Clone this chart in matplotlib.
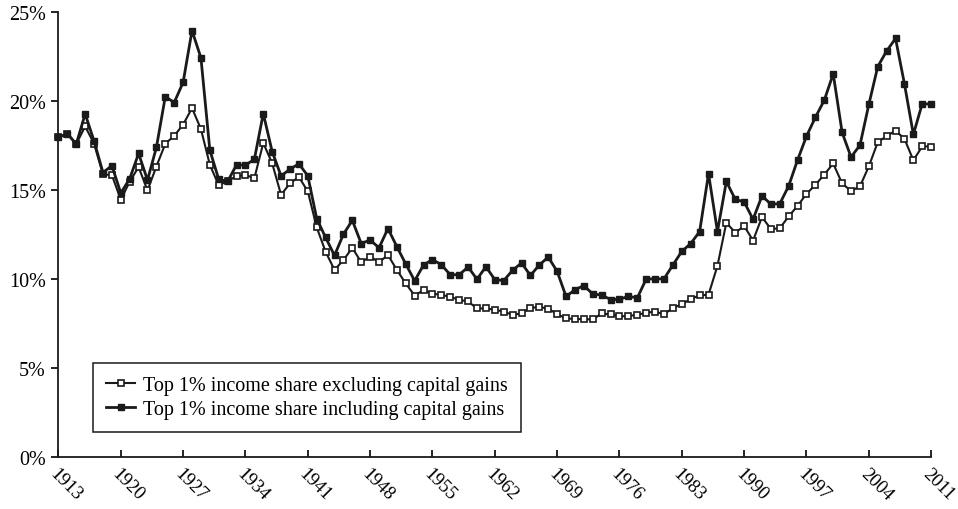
import numpy as np
import matplotlib.pyplot as plt

plt.rcParams['font.family'] = ['Liberation Serif', 'DejaVu Serif']

years = list(range(1913, 2012))

# top 1% share excluding capital gains (%)
excl_cg = [17.96, 18.16, 17.58, 18.57, 17.60, 15.88, 15.84, 14.46, 15.47, 16.29,
           14.98, 16.32, 17.60, 18.04, 18.67, 19.60, 18.42, 16.42, 15.26, 15.51,
           15.78, 15.85, 15.66, 17.64, 16.50, 14.73, 15.38, 15.73, 14.93, 12.91,
           11.54, 10.52, 11.07, 11.76, 10.95, 11.27, 10.95, 11.36, 10.52, 9.76,
           9.08, 9.39, 9.19, 9.12, 9.01, 8.84, 8.75, 8.36, 8.36, 8.29,
           8.18, 8.00, 8.09, 8.39, 8.44, 8.35, 8.04, 7.80, 7.77, 7.76,
           7.74, 8.08, 8.02, 7.91, 7.94, 8.00, 8.12, 8.18, 8.03, 8.39,
           8.59, 8.89, 9.09, 9.13, 10.75, 13.17, 12.61, 12.98, 12.17, 13.48,
           12.82, 12.85, 13.53, 14.11, 14.79, 15.29, 15.87, 16.49, 15.37, 14.95,
           15.20, 16.33, 17.68, 18.03, 18.33, 17.87, 16.67, 17.45, 17.44]

# top 1% share including capital gains (%)
incl_cg = [17.96, 18.16, 17.58, 19.27, 17.75, 15.98, 16.37, 14.83, 15.63, 17.05,
           15.56, 17.39, 20.24, 19.91, 21.04, 23.94, 22.42, 17.24, 15.60, 15.48,
           16.42, 16.40, 16.72, 19.29, 17.16, 15.79, 16.17, 16.47, 15.80, 13.40,
           12.34, 11.33, 12.52, 13.30, 12.00, 12.20, 11.76, 12.84, 11.83, 10.85,
           9.91, 10.80, 11.10, 10.81, 10.25, 10.25, 10.68, 10.00, 10.70, 9.98,
           9.92, 10.50, 10.91, 10.21, 10.80, 11.24, 10.44, 9.03, 9.41, 9.64,
           9.17, 9.11, 8.86, 8.87, 9.04, 8.95, 10.01, 10.02, 10.02, 10.80,
           11.56, 12.00, 12.67, 15.92, 12.67, 15.48, 14.48, 14.33, 13.36, 14.67,
           14.21, 14.23, 15.23, 16.69, 18.02, 19.08, 20.04, 21.52, 18.23, 16.85,
           17.51, 19.80, 21.92, 22.80, 23.50, 20.95, 18.12, 19.85, 19.81]

xticks = list(range(1913, 2012, 7))
yticks = [0, 5, 10, 15, 20, 25]

fig = plt.figure(figsize=(9.58, 5.10), dpi=100)
ax = fig.add_axes([0.061, 0.101, 0.911, 0.874])

ax.plot(years, excl_cg, color='#1a1a1a', lw=1.5, marker='s', ms=5.0,
        mfc='white', mec='#1a1a1a', mew=1.2, clip_on=False, zorder=3,
        label='Top 1% income share excluding capital gains')
ax.plot(years, incl_cg, color='#1a1a1a', lw=2.0, marker='s', ms=5.0,
        mfc='#1a1a1a', mec='#1a1a1a', clip_on=False, zorder=4,
        label='Top 1% income share including capital gains')

ax.set_xlim(1913, 2011)
ax.set_ylim(0, 25)
ax.set_xticks(xticks)
ax.set_xticklabels([str(y) for y in xticks], rotation=-45, ha='left',
                   va='top', rotation_mode='anchor', fontsize=13.5)
ax.set_yticks(yticks)
ax.set_yticklabels(['%d%%' % v for v in yticks], fontsize=14.5)
ax.tick_params(axis='x', direction='in', length=5, width=1.2, pad=5)
ax.tick_params(axis='y', direction='out', length=5, width=1.2, pad=4)

for pos in ['top', 'right']:
    ax.spines[pos].set_visible(False)
for pos in ['left', 'bottom']:
    ax.spines[pos].set_linewidth(1.3)
    ax.spines[pos].set_color('#1a1a1a')

leg = ax.legend(loc='lower left', bbox_to_anchor=(0.04, 0.057), fontsize=14.5,
                handlelength=1.4, handletextpad=0.4, markerscale=0.75,
                fancybox=False, framealpha=1, borderpad=0.65, labelspacing=0.22,
                borderaxespad=0)
leg.get_frame().set_edgecolor('#1a1a1a')
leg.get_frame().set_linewidth(1.1)

fig.savefig('out.png', dpi=100)
